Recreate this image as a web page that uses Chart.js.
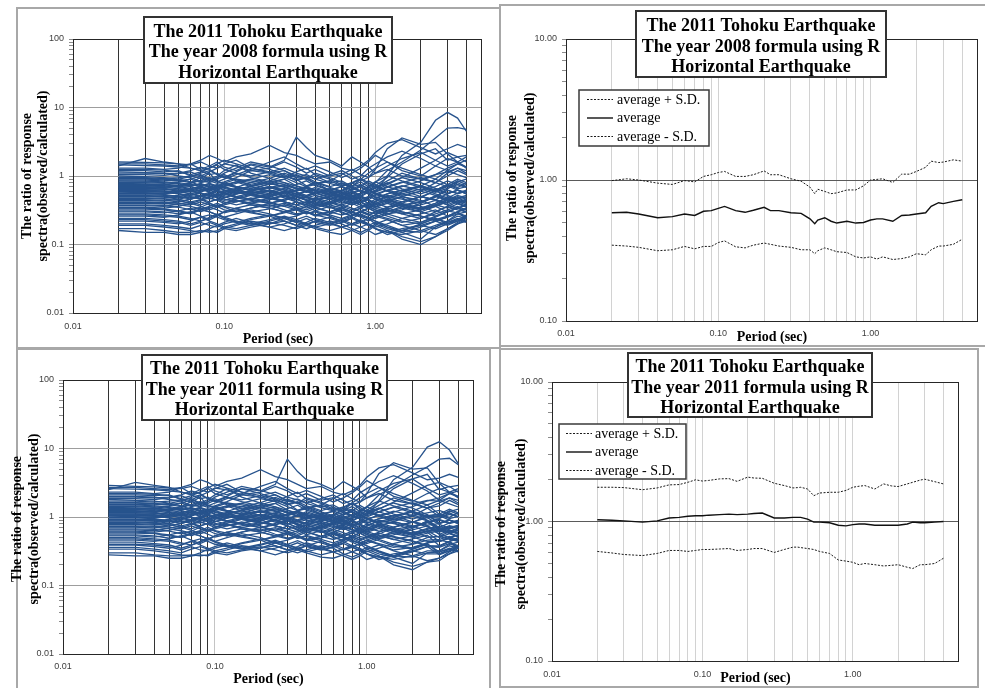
<!DOCTYPE html>
<html>
<head>
<meta charset="utf-8">
<script src="https://cdn.jsdelivr.net/npm/chart.js@4.4.1/dist/chart.umd.min.js"></script>
<style>
  html, body { margin: 0; padding: 0; background: #ffffff; }
  body { width: 985px; height: 688px; position: relative; overflow: hidden; }
  canvas { position: absolute; left: 0; top: 0; }
</style>
</head>
<body>
<canvas id="c1" width="985" height="688"></canvas>
<canvas id="c2" width="985" height="688"></canvas>
<canvas id="c3" width="985" height="688"></canvas>
<canvas id="c4" width="985" height="688"></canvas>
<script>
// ---- periods (sec) ----
const periods = [0.02,0.03,0.04,0.05,0.06,0.07,0.08,0.09,0.1,0.12,0.15,0.2,0.25,0.3,0.35,0.4,0.5,0.6,0.7,0.8,0.9,1.0,1.2,1.5,2.0,2.5,3.0,3.5,4.0];
const periodsAvg = [0.02,0.025,0.03,0.04,0.05,0.06,0.07,0.08,0.09,0.1,0.11,0.13,0.15,0.17,0.2,0.22,0.25,0.3,0.35,0.4,0.43,0.45,0.5,0.55,0.6,0.7,0.8,0.9,1.0,1.1,1.2,1.4,1.6,1.8,2.0,2.3,2.5,2.8,3.0,3.5,4.0];

// ---- observed/calculated ratios per record, year 2008 formula ----
const ratios2008 = [
[1.6,1.58,1.55,1.5,1.45,1.6,1.4,1.3,1.5,1.7,1.3,1.1,1.2,0.95,0.9,1.0,0.8,0.85,0.7,0.9,1.1,1.3,1.6,1.2,1.0,1.4,1.8,1.6,1.3],
[1.5,1.5,1.45,1.4,1.5,1.7,2.0,1.8,1.6,1.9,2.1,2.8,2.2,2.0,1.7,1.5,1.6,1.3,1.2,1.4,1.7,2.2,3.0,3.4,2.6,2.1,2.5,2.9,2.6],
[1.4,1.8,1.6,1.5,1.3,1.2,1.05,1.1,0.95,0.9,0.85,0.75,0.8,0.65,0.6,0.55,0.62,0.5,0.48,0.42,0.5,0.46,0.55,0.62,0.5,0.45,0.4,0.48,0.42],
[1.3,1.3,1.25,1.3,1.5,1.25,1.4,1.6,1.35,1.2,1.5,1.35,1.7,3.7,2.6,2.0,1.7,1.4,1.9,1.6,1.35,1.1,1.25,1.0,0.9,1.05,1.15,1.3,1.2],
[1.2,1.2,1.15,1.2,1.0,0.92,1.1,0.82,0.78,0.9,0.72,0.85,1.0,0.9,0.72,0.8,0.62,0.7,0.52,0.56,0.62,0.72,0.95,1.5,2.1,2.5,1.7,1.9,1.6],
[1.15,1.12,1.1,1.0,0.95,0.82,0.9,1.0,1.2,1.45,1.1,0.92,0.8,0.72,0.66,0.6,0.56,0.5,0.45,0.41,0.38,0.43,0.5,0.46,0.4,0.5,0.62,0.56,0.6],
[1.1,1.1,1.08,1.1,1.2,1.35,1.25,1.05,0.95,1.15,1.45,1.25,1.05,0.85,0.95,0.75,0.85,1.05,1.25,1.05,0.95,1.25,2.5,3.6,2.9,3.1,2.1,1.6,1.35],
[1.0,0.98,0.95,0.9,0.82,0.72,0.78,0.68,0.62,0.58,0.52,0.47,0.52,0.42,0.36,0.31,0.36,0.29,0.26,0.31,0.28,0.26,0.23,0.19,0.21,0.26,0.31,0.29,0.26],
[0.95,0.95,0.92,0.95,1.0,1.05,0.9,0.95,1.05,0.85,0.75,0.65,0.72,0.68,0.58,0.62,0.52,0.48,0.58,0.62,0.55,0.6,1.0,2.0,3.1,6.5,8.5,7.0,4.5],
[0.9,0.9,0.88,0.85,0.9,0.8,0.85,0.95,1.1,1.3,1.6,1.4,1.2,1.0,0.9,1.1,0.95,0.8,0.7,0.75,0.65,0.8,1.2,1.6,2.4,3.6,5.0,5.1,4.8],
[0.85,0.84,0.82,0.8,0.75,0.7,0.78,0.72,0.66,0.6,0.55,0.62,0.5,0.45,0.5,0.42,0.38,0.45,0.5,0.42,0.36,0.32,0.28,0.3,0.26,0.22,0.25,0.3,0.34],
[0.8,0.8,0.78,0.82,0.9,1.0,1.15,1.3,1.5,1.4,1.2,1.3,1.6,1.35,1.1,1.25,1.0,1.1,0.9,1.0,1.3,1.5,1.9,2.3,1.8,1.4,1.2,1.5,1.7],
[0.78,0.77,0.75,0.7,0.72,0.78,0.7,0.62,0.58,0.65,0.7,0.6,0.55,0.5,0.48,0.45,0.5,0.55,0.48,0.42,0.45,0.4,0.35,0.38,0.42,0.5,0.65,0.8,0.7],
[0.75,0.75,0.74,0.78,0.7,0.65,0.6,0.68,0.75,0.82,0.9,1.05,0.95,0.8,0.7,0.75,0.62,0.55,0.62,0.7,0.85,0.75,0.6,0.52,0.6,0.8,1.1,1.3,1.1],
[0.72,0.72,0.7,0.65,0.6,0.56,0.52,0.5,0.55,0.48,0.44,0.4,0.46,0.52,0.45,0.4,0.36,0.32,0.3,0.34,0.3,0.28,0.32,0.4,0.5,0.45,0.55,0.62,0.58],
[0.7,0.7,0.68,0.72,0.8,0.95,0.85,0.78,0.82,0.95,1.2,1.1,0.95,1.15,1.3,1.05,0.9,0.75,0.7,0.6,0.55,0.62,0.75,0.95,1.3,1.7,2.2,1.9,2.0],
[0.68,0.68,0.66,0.62,0.66,0.7,0.75,0.7,0.62,0.55,0.58,0.52,0.42,0.38,0.42,0.36,0.42,0.48,0.44,0.38,0.35,0.42,0.52,0.48,0.36,0.3,0.36,0.42,0.46],
[0.65,0.65,0.64,0.6,0.55,0.6,0.66,0.72,0.8,0.7,0.62,0.78,0.9,0.72,0.62,0.55,0.6,0.5,0.46,0.55,0.62,0.55,0.45,0.38,0.34,0.4,0.5,0.45,0.4],
[0.62,0.62,0.6,0.58,0.62,0.56,0.5,0.55,0.6,0.66,0.55,0.5,0.58,0.62,0.7,0.8,0.68,0.6,0.78,0.9,0.75,0.68,0.85,1.1,0.9,0.8,1.0,1.2,1.05],
[0.6,0.6,0.58,0.55,0.5,0.46,0.5,0.55,0.5,0.44,0.4,0.45,0.52,0.46,0.4,0.35,0.3,0.34,0.3,0.26,0.24,0.22,0.18,0.15,0.12,0.18,0.22,0.28,0.3],
[0.58,0.57,0.56,0.6,0.65,0.7,0.62,0.68,0.75,0.68,0.8,0.7,0.62,0.55,0.6,0.52,0.45,0.52,0.58,0.5,0.45,0.52,0.62,0.55,0.48,0.62,0.75,0.68,0.8],
[0.55,0.55,0.54,0.5,0.48,0.52,0.58,0.52,0.48,0.55,0.62,0.55,0.48,0.42,0.38,0.44,0.38,0.34,0.4,0.46,0.4,0.36,0.42,0.5,0.6,0.52,0.45,0.52,0.48],
[0.52,0.52,0.5,0.48,0.52,0.58,0.65,0.6,0.55,0.62,0.72,0.85,0.75,0.65,0.7,0.6,0.55,0.62,0.52,0.46,0.5,0.58,0.68,0.8,0.95,0.8,0.7,0.85,0.75],
[0.5,0.5,0.49,0.46,0.42,0.45,0.4,0.36,0.4,0.44,0.38,0.34,0.3,0.33,0.28,0.3,0.26,0.22,0.25,0.22,0.2,0.18,0.2,0.24,0.28,0.32,0.26,0.3,0.24],
[0.48,0.48,0.47,0.5,0.55,0.5,0.46,0.52,0.58,0.5,0.46,0.55,0.65,0.58,0.52,0.58,0.66,0.58,0.5,0.55,0.62,0.72,0.6,0.5,0.42,0.5,0.62,0.55,0.6],
[0.45,0.45,0.44,0.42,0.46,0.5,0.56,0.62,0.7,0.62,0.55,0.48,0.44,0.5,0.45,0.4,0.46,0.52,0.6,0.52,0.45,0.4,0.46,0.38,0.32,0.36,0.44,0.4,0.36],
[0.42,0.42,0.41,0.4,0.38,0.42,0.38,0.35,0.38,0.42,0.48,0.42,0.36,0.32,0.36,0.4,0.35,0.3,0.26,0.3,0.34,0.3,0.26,0.22,0.2,0.24,0.2,0.22,0.26],
[0.4,0.4,0.39,0.42,0.46,0.52,0.48,0.44,0.48,0.55,0.6,0.52,0.58,0.5,0.44,0.48,0.55,0.62,0.72,0.82,0.7,0.6,0.7,0.82,0.68,0.58,0.66,0.75,0.7],
[0.38,0.38,0.37,0.35,0.32,0.35,0.4,0.36,0.32,0.3,0.34,0.38,0.32,0.28,0.3,0.26,0.28,0.32,0.28,0.25,0.22,0.25,0.3,0.36,0.3,0.26,0.3,0.34,0.32],
[0.35,0.35,0.34,0.36,0.4,0.36,0.32,0.35,0.4,0.46,0.52,0.6,0.52,0.45,0.5,0.56,0.48,0.42,0.38,0.42,0.36,0.32,0.28,0.32,0.4,0.52,0.46,0.4,0.44],
[0.33,0.33,0.32,0.3,0.28,0.32,0.3,0.27,0.25,0.28,0.32,0.28,0.24,0.26,0.3,0.27,0.24,0.21,0.24,0.28,0.25,0.22,0.19,0.16,0.15,0.18,0.21,0.24,0.22],
[0.3,0.3,0.29,0.31,0.34,0.3,0.34,0.38,0.35,0.3,0.34,0.4,0.36,0.42,0.38,0.34,0.4,0.46,0.4,0.35,0.4,0.46,0.42,0.36,0.42,0.5,0.44,0.5,0.46],
[0.28,0.28,0.27,0.26,0.24,0.22,0.25,0.28,0.25,0.22,0.2,0.23,0.26,0.23,0.2,0.18,0.2,0.23,0.2,0.18,0.16,0.14,0.16,0.13,0.11,0.13,0.16,0.2,0.22],
[0.26,0.26,0.25,0.27,0.3,0.26,0.23,0.26,0.3,0.34,0.3,0.26,0.3,0.34,0.3,0.27,0.3,0.34,0.3,0.26,0.24,0.27,0.32,0.28,0.24,0.3,0.36,0.32,0.3],
[0.24,0.24,0.23,0.22,0.2,0.22,0.24,0.27,0.24,0.21,0.19,0.22,0.25,0.22,0.2,0.22,0.25,0.22,0.19,0.21,0.24,0.2,0.17,0.15,0.18,0.22,0.25,0.28,0.25],
[0.22,0.22,0.21,0.2,0.22,0.25,0.22,0.2,0.18,0.2,0.23,0.26,0.22,0.19,0.21,0.24,0.21,0.18,0.2,0.23,0.2,0.17,0.14,0.16,0.2,0.24,0.21,0.23,0.27],
[0.2,0.2,0.19,0.18,0.17,0.19,0.21,0.19,0.17,0.16,0.18,0.2,0.22,0.19,0.17,0.19,0.22,0.2,0.17,0.15,0.17,0.2,0.23,0.19,0.16,0.14,0.17,0.2,0.24],
[0.19,0.19,0.18,0.17,0.16,0.15,0.17,0.19,0.21,0.24,0.21,0.18,0.2,0.23,0.26,0.23,0.2,0.23,0.26,0.3,0.27,0.24,0.28,0.24,0.21,0.25,0.3,0.34,0.3],
[0.17,0.17,0.16,0.15,0.15,0.16,0.15,0.16,0.18,0.17,0.19,0.21,0.19,0.17,0.19,0.17,0.15,0.14,0.16,0.18,0.2,0.17,0.15,0.14,0.16,0.19,0.22,0.26,0.24],
[0.16,0.15,0.15,0.14,0.14,0.15,0.16,0.15,0.17,0.19,0.22,0.2,0.24,0.21,0.19,0.22,0.2,0.18,0.16,0.14,0.16,0.19,0.16,0.12,0.1,0.13,0.17,0.21,0.25],
[1.45,1.42,1.4,1.35,1.3,1.2,1.3,1.45,1.25,1.1,1.0,1.15,1.3,1.1,1.0,0.9,1.05,1.2,1.0,0.85,0.95,1.1,1.4,1.8,2.2,1.7,1.4,1.6,1.9],
[1.25,1.25,1.22,1.15,1.05,1.15,1.3,1.5,1.7,1.5,1.3,1.15,1.0,0.88,0.95,0.82,0.7,0.78,0.66,0.6,0.7,0.82,1.0,0.85,0.72,0.62,0.75,0.9,0.8],
[1.05,1.05,1.02,1.08,1.15,1.0,0.9,0.82,0.9,1.05,1.25,1.6,1.9,1.5,1.25,1.4,1.15,0.95,1.1,1.3,1.6,2.0,1.6,1.3,1.05,0.9,1.2,1.05,0.95],
[0.92,0.92,0.9,0.86,0.8,0.86,0.95,0.85,0.76,0.7,0.62,0.68,0.58,0.52,0.6,0.68,0.58,0.5,0.44,0.5,0.58,0.5,0.42,0.36,0.32,0.38,0.46,0.4,0.44],
[0.87,0.87,0.85,0.9,0.98,1.1,1.2,1.05,0.95,1.1,0.95,0.82,0.9,1.05,0.9,0.78,0.85,0.72,0.8,0.92,0.8,0.7,0.6,0.7,0.85,1.05,1.3,1.5,1.35],
[0.82,0.82,0.8,0.76,0.72,0.76,0.68,0.62,0.7,0.78,0.9,0.78,0.68,0.6,0.66,0.56,0.5,0.56,0.64,0.74,0.64,0.56,0.48,0.42,0.5,0.6,0.52,0.46,0.5],
[0.76,0.76,0.75,0.72,0.78,0.86,0.8,0.9,1.0,0.88,0.8,0.92,1.1,0.95,1.05,0.9,0.78,0.7,0.62,0.7,0.62,0.55,0.62,0.72,0.62,0.7,0.85,0.75,0.68],
[0.73,0.73,0.72,0.68,0.64,0.6,0.66,0.6,0.55,0.6,0.66,0.58,0.5,0.56,0.5,0.56,0.62,0.7,0.8,0.68,0.6,0.66,0.78,0.95,0.8,0.66,0.56,0.62,0.55],
[0.69,0.69,0.68,0.72,0.76,0.7,0.64,0.7,0.78,0.7,0.62,0.7,0.62,0.55,0.5,0.46,0.4,0.46,0.52,0.45,0.4,0.35,0.4,0.34,0.3,0.36,0.42,0.48,0.52],
[0.66,0.66,0.65,0.62,0.58,0.62,0.68,0.75,0.68,0.62,0.7,0.8,0.7,0.6,0.68,0.6,0.52,0.6,0.68,0.6,0.7,0.82,0.7,0.6,0.72,0.9,0.75,0.65,0.7],
[0.63,0.63,0.62,0.66,0.7,0.64,0.58,0.52,0.56,0.5,0.46,0.52,0.6,0.54,0.48,0.52,0.46,0.4,0.44,0.5,0.44,0.38,0.44,0.5,0.44,0.36,0.3,0.34,0.38],
[0.61,0.61,0.6,0.56,0.6,0.66,0.72,0.65,0.72,0.82,0.7,0.6,0.66,0.75,0.85,0.72,0.62,0.56,0.5,0.56,0.64,0.56,0.5,0.58,0.7,0.6,0.7,0.82,0.9],
[0.59,0.59,0.58,0.55,0.52,0.56,0.52,0.48,0.44,0.48,0.54,0.48,0.42,0.38,0.42,0.48,0.42,0.38,0.34,0.3,0.34,0.4,0.46,0.4,0.34,0.4,0.48,0.42,0.38],
[0.56,0.56,0.55,0.58,0.62,0.68,0.62,0.56,0.62,0.55,0.6,0.68,0.75,0.65,0.58,0.65,0.58,0.52,0.46,0.52,0.6,0.68,0.8,0.65,0.55,0.65,0.55,0.62,0.56],
[0.53,0.53,0.52,0.5,0.46,0.5,0.55,0.5,0.46,0.42,0.46,0.4,0.44,0.5,0.44,0.38,0.42,0.48,0.42,0.38,0.34,0.3,0.35,0.42,0.5,0.44,0.38,0.44,0.4],
[0.51,0.51,0.5,0.52,0.56,0.5,0.55,0.6,0.55,0.5,0.56,0.62,0.55,0.62,0.7,0.62,0.55,0.48,0.55,0.62,0.55,0.48,0.55,0.62,0.72,0.62,0.72,0.62,0.55],
[0.47,0.47,0.46,0.44,0.4,0.44,0.48,0.44,0.4,0.44,0.4,0.36,0.4,0.35,0.32,0.36,0.41,0.36,0.32,0.36,0.4,0.36,0.32,0.28,0.32,0.38,0.45,0.4,0.36],
[0.44,0.44,0.43,0.46,0.5,0.46,0.42,0.46,0.52,0.58,0.52,0.46,0.52,0.46,0.4,0.44,0.5,0.44,0.38,0.42,0.48,0.54,0.48,0.55,0.65,0.55,0.48,0.56,0.62],
[0.41,0.41,0.4,0.38,0.36,0.33,0.36,0.4,0.36,0.33,0.3,0.33,0.38,0.34,0.3,0.27,0.3,0.34,0.3,0.27,0.24,0.27,0.24,0.21,0.24,0.28,0.32,0.36,0.32],
[0.37,0.37,0.36,0.39,0.42,0.38,0.42,0.46,0.42,0.38,0.42,0.47,0.42,0.38,0.34,0.38,0.34,0.38,0.42,0.38,0.34,0.38,0.44,0.38,0.33,0.38,0.34,0.39,0.35],
[0.34,0.34,0.33,0.31,0.29,0.32,0.35,0.32,0.29,0.32,0.29,0.26,0.29,0.32,0.28,0.31,0.27,0.24,0.27,0.3,0.27,0.3,0.34,0.3,0.26,0.23,0.26,0.3,0.34],
[0.31,0.31,0.3,0.28,0.3,0.33,0.3,0.27,0.3,0.34,0.38,0.34,0.3,0.27,0.3,0.34,0.3,0.27,0.3,0.34,0.38,0.34,0.3,0.34,0.38,0.44,0.38,0.34,0.38],
[0.27,0.27,0.26,0.25,0.23,0.25,0.27,0.25,0.23,0.21,0.24,0.27,0.24,0.21,0.24,0.21,0.19,0.21,0.24,0.21,0.19,0.21,0.18,0.16,0.19,0.22,0.19,0.22,0.25],
[0.23,0.23,0.22,0.21,0.19,0.21,0.19,0.18,0.2,0.22,0.2,0.18,0.16,0.18,0.2,0.18,0.16,0.18,0.2,0.22,0.19,0.17,0.15,0.17,0.19,0.17,0.2,0.23,0.21]
];

// ---- observed/calculated ratios per record, year 2011 formula ----
const ratios2011 = [
[2.9,2.8,2.75,2.65,2.6,2.8,2.5,2.3,2.6,3.0,2.3,1.9,2.1,1.7,1.6,1.75,1.4,1.5,1.25,1.6,1.9,2.2,2.7,2.0,1.7,2.2,2.6,2.3,1.9],
[2.7,2.7,2.6,2.5,2.7,3.0,3.5,3.2,2.8,3.3,3.7,4.9,3.9,3.5,3.0,2.6,2.8,2.3,2.1,2.4,2.9,3.8,5.2,5.8,4.4,3.5,3.7,4.2,3.8],
[2.5,3.2,2.9,2.7,2.3,2.1,1.85,1.95,1.7,1.6,1.5,1.3,1.4,1.15,1.05,0.95,1.08,0.88,0.84,0.74,0.88,0.8,0.95,1.05,0.85,0.75,0.6,0.7,0.62],
[2.3,2.3,2.2,2.3,2.7,2.2,2.5,2.8,2.4,2.1,2.6,2.4,3.0,7.0,4.6,3.5,3.0,2.5,3.3,2.8,2.4,1.9,2.2,1.75,1.55,1.75,1.7,1.9,1.75],
[2.1,2.1,2.05,2.1,1.8,1.65,1.95,1.45,1.4,1.6,1.3,1.5,1.75,1.6,1.25,1.4,1.1,1.2,0.92,0.98,1.08,1.25,1.65,2.6,3.6,4.2,2.5,2.8,2.3],
[2.0,2.0,1.95,1.8,1.7,1.45,1.6,1.8,2.1,2.6,1.95,1.6,1.4,1.25,1.15,1.05,0.98,0.88,0.8,0.72,0.66,0.75,0.88,0.8,0.7,0.82,0.92,0.82,0.88],
[1.95,1.95,1.9,1.95,2.1,2.4,2.2,1.85,1.7,2.0,2.6,2.2,1.85,1.5,1.65,1.3,1.5,1.85,2.2,1.85,1.65,2.2,4.3,6.2,5.0,5.2,3.1,2.3,2.0],
[1.8,1.75,1.7,1.6,1.45,1.28,1.38,1.2,1.1,1.02,0.92,0.82,0.9,0.74,0.64,0.55,0.63,0.5,0.46,0.54,0.49,0.45,0.4,0.33,0.36,0.42,0.46,0.43,0.38],
[1.7,1.7,1.65,1.7,1.78,1.85,1.6,1.68,1.85,1.5,1.32,1.15,1.27,1.2,1.02,1.08,0.92,0.84,1.0,1.08,0.96,1.05,1.75,3.5,5.3,10.5,12.5,9.5,6.0],
[1.6,1.6,1.55,1.5,1.6,1.42,1.5,1.68,1.95,2.3,2.8,2.45,2.1,1.75,1.58,1.92,1.65,1.4,1.22,1.3,1.13,1.4,2.1,2.8,4.1,5.4,7.0,7.2,5.8],
[1.5,1.5,1.45,1.42,1.33,1.24,1.38,1.27,1.17,1.06,0.97,1.09,0.88,0.79,0.88,0.74,0.67,0.79,0.88,0.74,0.63,0.56,0.49,0.52,0.45,0.38,0.37,0.44,0.48],
[1.42,1.42,1.38,1.45,1.6,1.78,2.05,2.3,2.65,2.48,2.12,2.3,2.8,2.4,1.95,2.2,1.75,1.92,1.57,1.75,2.25,2.6,3.3,4.0,3.1,2.4,1.75,2.2,2.4],
[1.38,1.36,1.33,1.24,1.28,1.38,1.24,1.1,1.02,1.15,1.24,1.06,0.97,0.88,0.85,0.8,0.88,0.97,0.84,0.74,0.79,0.7,0.62,0.66,0.73,0.85,0.95,1.15,1.0],
[1.33,1.33,1.3,1.38,1.24,1.15,1.06,1.2,1.33,1.45,1.6,1.85,1.68,1.42,1.24,1.32,1.1,0.97,1.08,1.22,1.48,1.3,1.05,0.9,1.03,1.35,1.6,1.9,1.6],
[1.28,1.28,1.24,1.15,1.06,0.99,0.92,0.88,0.97,0.85,0.78,0.7,0.81,0.92,0.8,0.7,0.63,0.56,0.52,0.59,0.52,0.49,0.56,0.7,0.86,0.76,0.8,0.9,0.84],
[1.24,1.24,1.2,1.28,1.42,1.68,1.5,1.38,1.45,1.68,2.1,1.95,1.68,2.0,2.3,1.84,1.58,1.3,1.22,1.05,0.96,1.08,1.3,1.65,2.25,2.9,3.2,2.75,2.9],
[1.2,1.2,1.17,1.1,1.17,1.24,1.33,1.24,1.1,0.97,1.02,0.92,0.74,0.67,0.74,0.63,0.74,0.84,0.77,0.66,0.61,0.73,0.9,0.83,0.62,0.51,0.52,0.61,0.67],
[1.15,1.15,1.13,1.06,0.97,1.06,1.17,1.27,1.42,1.24,1.1,1.38,1.58,1.27,1.09,0.96,1.05,0.88,0.8,0.96,1.08,0.96,0.78,0.66,0.58,0.68,0.73,0.65,0.58],
[1.1,1.1,1.06,1.03,1.1,0.99,0.88,0.97,1.06,1.17,0.97,0.88,1.02,1.09,1.22,1.4,1.19,1.05,1.35,1.58,1.3,1.18,1.48,1.9,1.55,1.35,1.45,1.75,1.52],
[1.06,1.06,1.03,0.97,0.88,0.81,0.88,0.97,0.88,0.78,0.7,0.79,0.91,0.81,0.7,0.61,0.52,0.59,0.52,0.45,0.42,0.38,0.31,0.26,0.21,0.3,0.32,0.4,0.43],
[1.03,1.01,0.99,1.06,1.15,1.24,1.1,1.2,1.33,1.2,1.42,1.24,1.09,0.96,1.05,0.91,0.78,0.9,1.0,0.87,0.78,0.9,1.08,0.95,0.83,1.05,1.1,0.99,1.16],
[0.97,0.97,0.95,0.88,0.85,0.92,1.03,0.92,0.85,0.97,1.1,0.97,0.84,0.74,0.66,0.77,0.66,0.59,0.7,0.8,0.7,0.62,0.73,0.86,1.03,0.88,0.66,0.75,0.7],
[0.92,0.92,0.88,0.85,0.92,1.03,1.15,1.06,0.97,1.1,1.27,1.5,1.32,1.14,1.22,1.05,0.96,1.08,0.9,0.8,0.87,1.0,1.18,1.38,1.62,1.35,1.02,1.23,1.09],
[0.88,0.88,0.87,0.81,0.74,0.8,0.71,0.64,0.71,0.78,0.67,0.6,0.53,0.58,0.49,0.52,0.45,0.38,0.44,0.38,0.35,0.31,0.35,0.41,0.48,0.54,0.38,0.44,0.35],
[0.85,0.85,0.83,0.88,0.97,0.88,0.81,0.92,1.03,0.88,0.81,0.97,1.14,1.02,0.91,1.01,1.15,1.01,0.87,0.95,1.07,1.24,1.03,0.86,0.72,0.85,0.9,0.8,0.87],
[0.8,0.8,0.78,0.74,0.81,0.88,0.99,1.1,1.24,1.1,0.97,0.84,0.77,0.88,0.79,0.7,0.8,0.9,1.04,0.9,0.78,0.69,0.79,0.65,0.55,0.61,0.64,0.58,0.52],
[0.74,0.74,0.73,0.71,0.67,0.74,0.67,0.62,0.67,0.74,0.85,0.74,0.63,0.56,0.63,0.7,0.61,0.52,0.45,0.52,0.59,0.52,0.45,0.38,0.34,0.41,0.29,0.32,0.38],
[0.71,0.71,0.69,0.74,0.81,0.92,0.85,0.78,0.85,0.97,1.06,0.92,1.02,0.88,0.77,0.84,0.96,1.08,1.25,1.42,1.21,1.04,1.2,1.4,1.15,0.98,0.96,1.09,1.02],
[0.67,0.67,0.66,0.62,0.57,0.62,0.71,0.64,0.57,0.53,0.6,0.67,0.56,0.49,0.52,0.45,0.49,0.56,0.49,0.43,0.38,0.43,0.51,0.61,0.51,0.44,0.44,0.49,0.46],
[0.62,0.62,0.6,0.64,0.71,0.64,0.57,0.62,0.71,0.81,0.92,1.06,0.91,0.79,0.87,0.97,0.83,0.73,0.66,0.73,0.62,0.55,0.48,0.55,0.68,0.88,0.67,0.58,0.64],
[0.58,0.58,0.57,0.53,0.5,0.57,0.53,0.48,0.44,0.5,0.57,0.5,0.42,0.46,0.52,0.47,0.42,0.37,0.42,0.49,0.43,0.38,0.32,0.27,0.26,0.3,0.31,0.35,0.32],
[0.53,0.53,0.51,0.55,0.6,0.53,0.6,0.67,0.62,0.53,0.6,0.71,0.63,0.74,0.66,0.59,0.7,0.8,0.69,0.6,0.69,0.79,0.72,0.61,0.71,0.84,0.64,0.73,0.67],
[0.5,0.5,0.48,0.46,0.42,0.39,0.44,0.5,0.44,0.39,0.35,0.4,0.46,0.4,0.35,0.31,0.35,0.4,0.35,0.31,0.28,0.24,0.27,0.22,0.19,0.22,0.23,0.29,0.32],
[0.46,0.46,0.44,0.48,0.53,0.46,0.41,0.46,0.53,0.6,0.53,0.46,0.53,0.6,0.52,0.47,0.52,0.59,0.52,0.45,0.41,0.46,0.54,0.47,0.41,0.5,0.52,0.47,0.44],
[0.43,0.43,0.41,0.39,0.35,0.39,0.43,0.48,0.43,0.37,0.34,0.39,0.44,0.39,0.35,0.38,0.44,0.38,0.33,0.36,0.41,0.34,0.29,0.26,0.31,0.37,0.36,0.41,0.36],
[0.39,0.39,0.37,0.35,0.39,0.44,0.39,0.35,0.32,0.35,0.41,0.46,0.38,0.33,0.37,0.42,0.36,0.31,0.34,0.39,0.34,0.29,0.24,0.27,0.34,0.4,0.31,0.34,0.39],
[0.36,0.36,0.34,0.32,0.3,0.34,0.37,0.34,0.3,0.28,0.32,0.35,0.38,0.33,0.3,0.33,0.38,0.35,0.29,0.26,0.29,0.34,0.39,0.32,0.27,0.23,0.25,0.29,0.35],
[0.34,0.34,0.32,0.3,0.28,0.27,0.3,0.34,0.37,0.42,0.37,0.32,0.35,0.4,0.45,0.4,0.35,0.4,0.45,0.51,0.46,0.41,0.47,0.4,0.35,0.42,0.44,0.49,0.44],
[0.3,0.3,0.28,0.27,0.27,0.28,0.27,0.28,0.32,0.3,0.33,0.37,0.33,0.3,0.33,0.3,0.26,0.25,0.28,0.31,0.34,0.29,0.26,0.24,0.27,0.32,0.32,0.38,0.35],
[0.28,0.27,0.27,0.25,0.25,0.27,0.28,0.27,0.3,0.33,0.38,0.35,0.42,0.37,0.33,0.38,0.34,0.31,0.27,0.24,0.27,0.32,0.27,0.2,0.17,0.22,0.25,0.31,0.37],
[2.6,2.55,2.5,2.4,2.3,2.15,2.3,2.6,2.2,1.95,1.78,2.05,2.3,1.95,1.78,1.6,1.85,2.1,1.75,1.5,1.65,1.9,2.4,3.1,3.6,2.6,2.1,2.3,2.6],
[2.2,2.2,2.15,2.05,1.85,2.05,2.3,2.65,3.0,2.65,2.3,2.05,1.78,1.55,1.68,1.45,1.24,1.38,1.16,1.05,1.22,1.42,1.72,1.45,1.22,1.02,1.1,1.3,1.15],
[1.85,1.85,1.8,1.9,2.05,1.78,1.6,1.45,1.6,1.85,2.2,2.8,3.3,2.6,2.2,2.45,2.0,1.66,1.9,2.25,2.75,3.4,2.7,2.2,1.75,1.5,1.75,1.55,1.4],
[1.62,1.62,1.58,1.52,1.42,1.52,1.68,1.5,1.35,1.24,1.1,1.2,1.02,0.92,1.05,1.2,1.02,0.88,0.77,0.87,1.0,0.86,0.72,0.62,0.54,0.62,0.68,0.6,0.64],
[1.53,1.53,1.5,1.58,1.72,1.94,2.1,1.85,1.68,1.94,1.68,1.44,1.58,1.84,1.58,1.37,1.49,1.26,1.4,1.6,1.38,1.2,1.02,1.18,1.42,1.72,1.9,2.2,1.98],
[1.45,1.45,1.41,1.34,1.27,1.34,1.2,1.1,1.24,1.38,1.58,1.37,1.2,1.05,1.16,0.98,0.88,0.98,1.1,1.27,1.1,0.96,0.82,0.71,0.84,0.98,0.78,0.68,0.73],
[1.34,1.34,1.32,1.27,1.37,1.51,1.41,1.58,1.76,1.55,1.41,1.62,1.93,1.67,1.84,1.58,1.37,1.23,1.08,1.2,1.06,0.94,1.05,1.22,1.05,1.15,1.25,1.1,1.0],
[1.28,1.28,1.27,1.2,1.13,1.06,1.16,1.06,0.97,1.06,1.16,1.02,0.88,0.98,0.88,0.98,1.09,1.22,1.38,1.17,1.02,1.12,1.32,1.6,1.35,1.08,0.82,0.9,0.8],
[1.21,1.21,1.2,1.27,1.34,1.23,1.13,1.23,1.37,1.23,1.09,1.23,1.09,0.97,0.88,0.81,0.7,0.81,0.9,0.77,0.68,0.6,0.68,0.57,0.51,0.58,0.62,0.7,0.76],
[1.16,1.16,1.14,1.09,1.02,1.09,1.2,1.32,1.2,1.09,1.23,1.41,1.23,1.05,1.19,1.05,0.91,1.05,1.17,1.02,1.19,1.4,1.19,1.02,1.22,1.5,1.1,0.95,1.02],
[1.11,1.11,1.09,1.16,1.23,1.13,1.02,0.92,0.99,0.88,0.81,0.92,1.06,0.95,0.84,0.91,0.8,0.7,0.76,0.86,0.75,0.65,0.75,0.84,0.75,0.6,0.44,0.5,0.55],
[1.07,1.07,1.06,0.99,1.06,1.16,1.27,1.14,1.27,1.44,1.23,1.06,1.16,1.32,1.49,1.26,1.08,0.98,0.86,0.96,1.1,0.96,0.85,0.98,1.19,1.0,1.02,1.2,1.3],
[1.04,1.04,1.02,0.97,0.92,0.99,0.92,0.85,0.77,0.85,0.95,0.85,0.74,0.67,0.74,0.84,0.74,0.66,0.59,0.52,0.58,0.68,0.78,0.68,0.58,0.66,0.7,0.62,0.56],
[0.99,0.99,0.97,1.02,1.09,1.2,1.09,0.99,1.09,0.97,1.06,1.2,1.32,1.14,1.02,1.14,1.0,0.9,0.79,0.89,1.02,1.16,1.36,1.1,0.93,1.08,0.8,0.9,0.82],
[0.93,0.93,0.92,0.88,0.81,0.88,0.97,0.88,0.81,0.74,0.81,0.7,0.77,0.88,0.77,0.67,0.72,0.82,0.72,0.65,0.58,0.51,0.6,0.71,0.84,0.72,0.56,0.64,0.58],
[0.9,0.9,0.88,0.92,0.99,0.88,0.97,1.06,0.97,0.88,0.99,1.09,0.97,1.09,1.23,1.09,0.95,0.83,0.95,1.06,0.94,0.82,0.94,1.05,1.2,1.02,1.05,0.9,0.8],
[0.83,0.83,0.81,0.78,0.7,0.78,0.85,0.78,0.7,0.78,0.7,0.63,0.7,0.62,0.56,0.63,0.71,0.62,0.55,0.62,0.68,0.61,0.54,0.47,0.53,0.62,0.66,0.58,0.52],
[0.78,0.78,0.76,0.81,0.88,0.81,0.74,0.81,0.92,1.02,0.92,0.81,0.92,0.81,0.7,0.77,0.87,0.76,0.65,0.72,0.82,0.92,0.82,0.92,1.08,0.9,0.7,0.82,0.9],
[0.72,0.72,0.71,0.67,0.63,0.58,0.63,0.71,0.63,0.58,0.53,0.58,0.67,0.6,0.53,0.47,0.52,0.59,0.52,0.46,0.41,0.46,0.41,0.36,0.4,0.46,0.47,0.52,0.46],
[0.65,0.65,0.63,0.69,0.74,0.67,0.74,0.81,0.74,0.67,0.74,0.83,0.74,0.67,0.6,0.67,0.59,0.66,0.72,0.65,0.58,0.65,0.75,0.65,0.56,0.63,0.5,0.57,0.51],
[0.6,0.6,0.58,0.55,0.51,0.56,0.62,0.56,0.51,0.56,0.51,0.46,0.51,0.56,0.49,0.54,0.47,0.42,0.47,0.52,0.46,0.51,0.58,0.51,0.44,0.38,0.38,0.44,0.5],
[0.55,0.55,0.53,0.49,0.53,0.58,0.53,0.48,0.53,0.6,0.67,0.6,0.53,0.48,0.53,0.6,0.52,0.47,0.52,0.58,0.65,0.58,0.51,0.58,0.65,0.74,0.56,0.5,0.55],
[0.48,0.48,0.46,0.44,0.4,0.44,0.48,0.44,0.4,0.37,0.42,0.48,0.42,0.37,0.42,0.37,0.33,0.36,0.41,0.36,0.32,0.36,0.31,0.27,0.32,0.37,0.28,0.32,0.36],
[0.4,0.4,0.39,0.37,0.33,0.37,0.33,0.32,0.35,0.39,0.35,0.32,0.28,0.32,0.35,0.32,0.28,0.31,0.34,0.37,0.32,0.29,0.26,0.29,0.32,0.29,0.29,0.34,0.31]
];

// ---- average and +/- S.D. curves ----
const avgPlusSD2008  = [0.99,1.02,1.0,0.95,0.93,0.99,0.97,1.06,1.09,1.13,1.15,1.06,1.06,1.09,1.16,1.09,1.09,1.02,0.98,0.89,0.80,0.86,0.83,0.80,0.81,0.85,0.85,0.91,1.0,1.01,1.02,0.96,1.10,1.10,1.15,1.23,1.36,1.33,1.34,1.39,1.36];
const avg2008        = [0.586,0.59,0.574,0.54,0.55,0.574,0.56,0.60,0.606,0.63,0.65,0.606,0.59,0.61,0.64,0.606,0.606,0.586,0.58,0.53,0.49,0.52,0.54,0.51,0.495,0.51,0.495,0.50,0.52,0.53,0.53,0.51,0.56,0.565,0.574,0.586,0.65,0.69,0.68,0.705,0.725];
const avgMinusSD2008 = [0.345,0.34,0.333,0.315,0.32,0.338,0.325,0.338,0.338,0.36,0.37,0.336,0.33,0.345,0.357,0.35,0.34,0.333,0.32,0.32,0.30,0.315,0.33,0.32,0.31,0.306,0.285,0.28,0.285,0.275,0.285,0.273,0.277,0.285,0.30,0.295,0.32,0.34,0.34,0.35,0.38];
const avgPlusSD2011  = [1.76,1.76,1.75,1.69,1.74,1.83,1.84,1.91,1.99,1.95,1.97,2.02,2.03,1.94,2.08,2.05,2.04,1.88,1.81,1.74,1.75,1.76,1.71,1.53,1.60,1.62,1.62,1.67,1.76,1.79,1.81,1.71,1.86,1.80,1.78,1.86,1.91,1.98,2.01,1.93,1.86];
const avg2011        = [1.03,1.02,1.01,0.99,1.01,1.06,1.07,1.09,1.10,1.10,1.11,1.12,1.13,1.12,1.13,1.14,1.15,1.06,1.06,1.07,1.07,1.07,1.04,0.99,0.99,0.98,0.94,0.93,0.95,0.96,0.96,0.94,0.94,0.94,0.94,0.96,0.99,0.98,0.98,0.99,1.0];
const avgMinusSD2011 = [0.61,0.595,0.58,0.57,0.59,0.62,0.62,0.61,0.62,0.63,0.63,0.635,0.64,0.62,0.63,0.64,0.64,0.60,0.63,0.655,0.655,0.65,0.64,0.63,0.61,0.59,0.53,0.52,0.51,0.49,0.50,0.49,0.48,0.485,0.49,0.47,0.46,0.49,0.49,0.50,0.545];

// ---- axis ticks and labels ----
const xGridTicks = [0.01,0.02,0.03,0.04,0.05,0.06,0.07,0.08,0.09,0.1,0.2,0.3,0.4,0.5,0.6,0.7,0.8,0.9,1,2,3,4];
const xLabelValues = [0.01, 0.1, 1];
const xLabelText = ['0.01', '0.10', '1.00'];
const yTicksWide = [0.01,0.02,0.03,0.04,0.05,0.06,0.07,0.08,0.09,0.1,0.2,0.3,0.4,0.5,0.6,0.7,0.8,0.9,1,2,3,4,5,6,7,8,9,10,20,30,40,50,60,70,80,90,100];
const yLabelValuesWide = [0.01, 0.1, 1, 10, 100];
const yLabelTextWide = ['0.01', '0.1', '1', '10', '100'];
const yTicksNarrow = [0.1,0.2,0.3,0.4,0.5,0.6,0.7,0.8,0.9,1,2,3,4,5,6,7,8,9,10];
const yLabelValuesNarrow = [0.1, 1, 10];
const yLabelTextNarrow = ['0.10', '1.00', '10.00'];

// ---- text ----
const titleLine1 = 'The 2011 Tohoku Earthquake';
const titleLine2008 = 'The year 2008 formula using R';
const titleLine2011 = 'The year 2011 formula using R';
const titleLine3 = 'Horizontal Earthquake';
const yTitleLines = ['The ratio of response', 'spectra(observed/calculated)'];
const xTitle = 'Period (sec)';
const legendNames = ['average + S.D.', 'average', 'average - S.D.'];

const PAGE_W = 985, PAGE_H = 688;
const SERIF = '"Liberation Serif", "Times New Roman", serif';
const SANS = '"Liberation Sans", Arial, sans-serif';
const BLUE = '#27538d';

function near(a, b) { return Math.abs(a - b) < 1e-9 * Math.max(1, Math.abs(b)); }
function labelFor(v, values, texts) {
  for (let i = 0; i < values.length; i++) if (near(v, values[i])) return texts[i];
  return '';
}
function isMajor(v) { return near(Math.log10(v), Math.round(Math.log10(v))); }
function toPoints(xs, ys) { return xs.map((x, i) => ({ x: x, y: ys[i] })); }

// Panel decorations: frame, title box, axis titles, legend
const decor = {
  id: 'decor',
  beforeDraw(chart) {
    const d = chart.options.plugins.decor;
    const c = chart.ctx;
    const [l, t, r, b] = d.box;
    c.save();
    c.fillStyle = '#ffffff';
    c.fillRect(l, t, r - l, b - t);
    c.strokeStyle = '#a8a8a8';
    c.lineWidth = 2;
    c.strokeRect(l + 1, t + 1, r - l - 2, b - t - 2);
    c.restore();
  },
  afterDatasetsDraw(chart) {
    const a = chart.chartArea;
    const c = chart.ctx;
    c.save();
    c.strokeStyle = '#262626';
    c.lineWidth = 1;
    c.strokeRect(Math.round(a.left) + 0.5, Math.round(a.top) + 0.5, Math.round(a.right - a.left), Math.round(a.bottom - a.top));
    c.restore();
  },
  afterDraw(chart) {
    const d = chart.options.plugins.decor;
    const c = chart.ctx;
    c.save();
    // title box
    const [tl, tt, tr, tb] = d.titleBox;
    c.fillStyle = '#ffffff';
    c.fillRect(tl, tt, tr - tl, tb - tt);
    c.strokeStyle = '#333333';
    c.lineWidth = 2;
    c.strokeRect(tl, tt, tr - tl, tb - tt);
    c.fillStyle = '#000000';
    c.font = 'bold 18px ' + SERIF;
    c.textAlign = 'center';
    c.textBaseline = 'alphabetic';
    d.titleLines.forEach((s, i) => c.fillText(s, (tl + tr) / 2, d.titleBase[i]));
    // y-axis title (two rotated lines)
    c.font = 'bold 14px ' + SERIF;
    c.textBaseline = 'middle';
    yTitleLines.forEach((s, i) => {
      c.save();
      c.translate(d.yTitleX[i], d.yTitleY);
      c.rotate(-Math.PI / 2);
      c.fillText(s, 0, 0);
      c.restore();
    });
    // x-axis title
    c.textBaseline = 'alphabetic';
    c.fillText(xTitle, d.xTitle[0], d.xTitle[1]);
    // legend
    if (d.legend) {
      const L = d.legend;
      c.fillStyle = '#ffffff';
      c.fillRect(L.box[0], L.box[1], L.box[2] - L.box[0], L.box[3] - L.box[1]);
      c.strokeStyle = '#3a3a3a';
      c.lineWidth = 1.5;
      c.strokeRect(L.box[0], L.box[1], L.box[2] - L.box[0], L.box[3] - L.box[1]);
      c.font = '14px ' + SERIF;
      c.textAlign = 'left';
      c.textBaseline = 'alphabetic';
      chart.data.datasets.forEach((ds, i) => {
        const y = L.rows[i];
        c.save();
        c.strokeStyle = ds.borderColor;
        c.lineWidth = ds.borderWidth;
        c.setLineDash(ds.borderDash || []);
        c.beginPath();
        c.moveTo(L.sample[0], y + 0.5);
        c.lineTo(L.sample[1], y + 0.5);
        c.stroke();
        c.restore();
        c.fillStyle = '#000000';
        c.fillText(ds.label, L.textX, y + 4.5);
      });
    }
    c.restore();
  }
};

function makeChart(cfg) {
  const YW = 45, XH = 25;
  const [ax0, ay0, ax1, ay1] = cfg.area;
  return new Chart(document.getElementById(cfg.id), {
    type: 'line',
    data: { datasets: cfg.datasets },
    options: {
      responsive: false,
      animation: false,
      devicePixelRatio: 1,
      layout: { padding: { left: ax0 - YW, top: ay0, right: PAGE_W - ax1, bottom: PAGE_H - ay1 - XH } },
      elements: { point: { radius: 0 }, line: { tension: 0 } },
      plugins: {
        legend: { display: false },
        tooltip: { enabled: false },
        title: { display: false },
        decor: cfg.decor
      },
      scales: {
        x: {
          type: 'logarithmic',
          min: 0.01,
          max: 5,
          afterBuildTicks: s => { s.ticks = xGridTicks.map(v => ({ value: v })); },
          afterFit: s => { s.height = XH; },
          border: { display: false },
          grid: {
            drawTicks: false,
            lineWidth: 1,
            color: ctx => {
              const v = ctx.tick ? ctx.tick.value : 1;
              if (near(v, 0.01)) return 'rgba(0,0,0,0)';
              return isMajor(v) ? cfg.xMajorGrid : cfg.xMinorGrid;
            }
          },
          ticks: {
            autoSkip: false,
            maxRotation: 0,
            minRotation: 0,
            padding: cfg.xLabelPad,
            color: '#404040',
            font: { family: SANS, size: 9 },
            callback: v => labelFor(v, xLabelValues, xLabelText)
          }
        },
        y: {
          type: 'logarithmic',
          min: cfg.yMin,
          max: cfg.yMax,
          afterBuildTicks: s => { s.ticks = cfg.yTicks.map(v => ({ value: v })); },
          afterFit: s => { s.width = YW; },
          border: { display: false },
          grid: {
            drawTicks: true,
            tickLength: 4,
            lineWidth: 1,
            tickColor: '#8c8c8c',
            color: ctx => {
              const v = ctx.tick ? ctx.tick.value : 1;
              return cfg.yGridAt.some(g => near(v, g)) ? cfg.yGridColor : 'rgba(0,0,0,0)';
            }
          },
          ticks: {
            autoSkip: false,
            padding: 5,
            color: '#404040',
            font: { family: SANS, size: 9 },
            callback: v => labelFor(v, cfg.yLabelValues, cfg.yLabelText)
          }
        }
      }
    },
    plugins: [decor]
  });
}

function spaghetti(records) {
  return records.map((r, i) => ({
    label: 'record ' + (i + 1),
    data: toPoints(periods, r),
    borderColor: BLUE,
    borderWidth: 1.3,
    fill: false
  }));
}
function averages(plus, mean, minus) {
  return [
    { label: legendNames[0], data: toPoints(periodsAvg, plus), borderColor: '#1a1a1a', borderWidth: 1, borderDash: [2, 1.5], fill: false },
    { label: legendNames[1], data: toPoints(periodsAvg, mean), borderColor: '#111111', borderWidth: 1.4, fill: false },
    { label: legendNames[2], data: toPoints(periodsAvg, minus), borderColor: '#1a1a1a', borderWidth: 1, borderDash: [2, 1.5], fill: false }
  ];
}

// top-left: all records, 2008 formula
makeChart({
  id: 'c1', area: [73, 39, 481, 313], xLabelPad: 8,
  yMin: 0.01, yMax: 100, yTicks: yTicksWide, yLabelValues: yLabelValuesWide, yLabelText: yLabelTextWide,
  yGridAt: [0.1, 1, 10], yGridColor: '#9d9d9d', xMajorGrid: '#c4c4c4', xMinorGrid: '#333333',
  datasets: spaghetti(ratios2008),
  decor: {
    box: [16, 7, 501, 349],
    titleBox: [144, 17, 392, 83], titleLines: [titleLine1, titleLine2008, titleLine3], titleBase: [36.7, 57.3, 77.7],
    yTitleX: [27, 43], yTitleY: 176, xTitle: [278, 342.5]
  }
});

// top-right: average +/- S.D., 2008 formula
makeChart({
  id: 'c2', area: [566, 39, 977, 321], xLabelPad: 7,
  yMin: 0.1, yMax: 10, yTicks: yTicksNarrow, yLabelValues: yLabelValuesNarrow, yLabelText: yLabelTextNarrow,
  yGridAt: [1], yGridColor: '#5a5a5a', xMajorGrid: '#d2d2d2', xMinorGrid: '#d2d2d2',
  datasets: averages(avgPlusSD2008, avg2008, avgMinusSD2008),
  decor: {
    box: [499, 4, 988, 347],
    titleBox: [636, 11, 886, 77], titleLines: [titleLine1, titleLine2008, titleLine3], titleBase: [31, 51.7, 71.7],
    yTitleX: [512, 530], yTitleY: 178, xTitle: [772, 341],
    legend: { box: [579, 90, 709, 146], rows: [99, 117.5, 136], sample: [587, 613], textX: 617 }
  }
});

// bottom-left: all records, 2011 formula
makeChart({
  id: 'c3', area: [63, 380, 473, 654], xLabelPad: 7,
  yMin: 0.01, yMax: 100, yTicks: yTicksWide, yLabelValues: yLabelValuesWide, yLabelText: yLabelTextWide,
  yGridAt: [0.1, 1, 10], yGridColor: '#9d9d9d', xMajorGrid: '#c4c4c4', xMinorGrid: '#333333',
  datasets: spaghetti(ratios2011),
  decor: {
    box: [16, 348, 491, 690],
    titleBox: [142, 355, 387, 420], titleLines: [titleLine1, titleLine2011, titleLine3], titleBase: [373.7, 394.7, 414.7],
    yTitleX: [17, 34], yTitleY: 519, xTitle: [268.5, 682.5]
  }
});

// bottom-right: average +/- S.D., 2011 formula
makeChart({
  id: 'c4', area: [552, 382, 958, 661], xLabelPad: 8,
  yMin: 0.1, yMax: 10, yTicks: yTicksNarrow, yLabelValues: yLabelValuesNarrow, yLabelText: yLabelTextNarrow,
  yGridAt: [1], yGridColor: '#5a5a5a', xMajorGrid: '#d2d2d2', xMinorGrid: '#d2d2d2',
  datasets: averages(avgPlusSD2011, avg2011, avgMinusSD2011),
  decor: {
    box: [499, 348, 979, 688],
    titleBox: [628, 353, 872, 417], titleLines: [titleLine1, titleLine2011, titleLine3], titleBase: [372.3, 393, 413],
    yTitleX: [501, 521], yTitleY: 524, xTitle: [755.5, 682],
    legend: { box: [559, 424, 686, 479], rows: [433, 451.5, 470], sample: [566, 592], textX: 595 }
  }
});
</script>
</body>
</html>
